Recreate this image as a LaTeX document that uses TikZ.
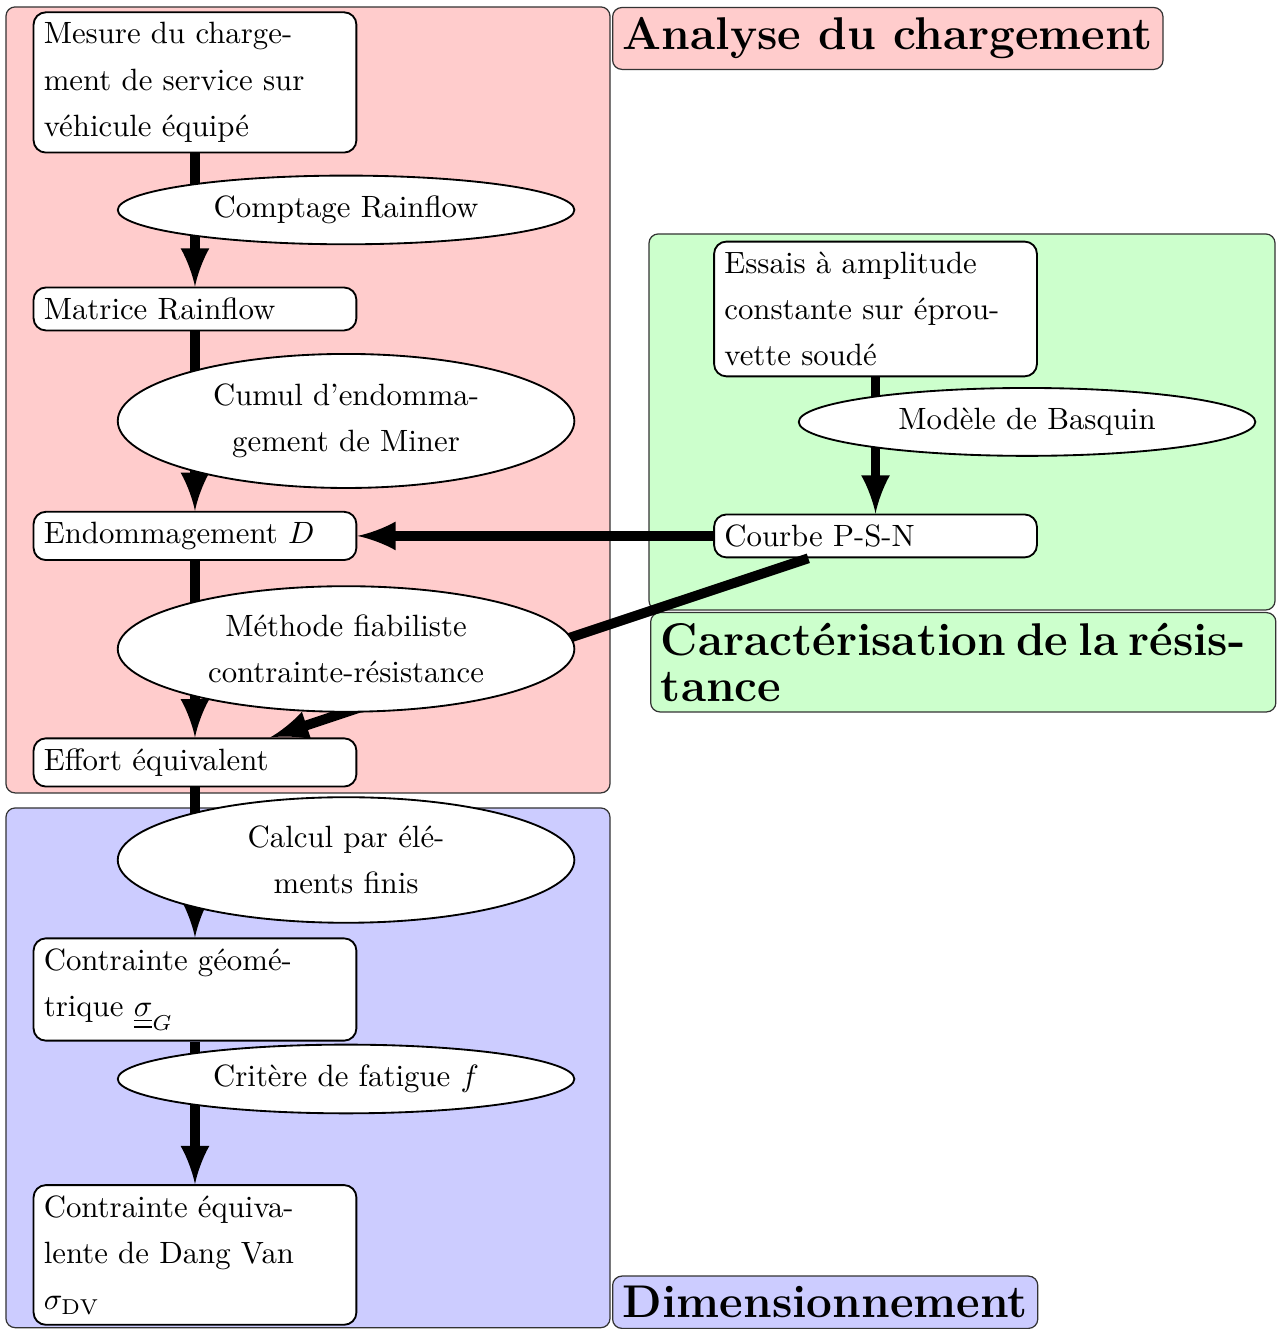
\documentclass[tikz,border=0pt]{standalone}
\usepackage{fontspec}
\usepackage{amsmath}
\usepackage{amssymb}
\usepackage{tikz}
\usetikzlibrary{shapes.geometric}
\linespread{1.25}

\definecolor{rouge}{rgb}{1,0.8,0.8}
\definecolor{vert}{rgb}{0.8,1,0.8}
\definecolor{bleu}{rgb}{0.8,0.8,1}
\newcommand{\grandtitre}{\fontsize{14.9}{18}\selectfont\bfseries}

\tikzset{
  etape/.style={draw,semithick,fill=white,rounded corners,text width=3.45cm,align=left},
  traitement/.style={ellipse,draw,semithick,fill=white,text width=3.45cm,align=center},
  zone/.style={draw=black!80,rounded corners=3pt},
  titre/.style={draw=black!80,rounded corners=3pt},
  fleche/.style={line width=3.2pt,-latex}
}

\begin{document}
\begin{tikzpicture}
\useasboundingbox (0,0) rectangle (14.562,15.166);
% zones de fond
\draw[zone,fill=rouge] (0.068,6.117) rectangle (6.961,15.087);
\draw[zone,fill=vert] (7.406,8.205) rectangle (14.55,12.496);
\draw[zone,fill=bleu] (0.068,0.015) rectangle (6.961,5.946);
\node[titre,fill=rouge,anchor=north west] (Tcharge) at (6.984,15.087) {{\grandtitre Analyse du chargement}};
\node[titre,fill=vert,anchor=north west,text width=6.9cm,align=left] (Tresist) at (7.418,8.182) {{\grandtitre Caractérisation de la résis-\\tance}};
\node[titre,fill=bleu,anchor=south west] (Tdim) at (6.984,0) {{\grandtitre Dimensionnement}};
% etapes
\node[etape] (mesure) at (2.225,14.225) {Mesure du charge-\\ment de service sur\\véhicule équipé};
\node[etape] (matrice) at (2.225,11.640) {Matrice Rainflow};
\node[etape] (endo) at (2.225,9.050) {Endommagement $D$};
\node[etape] (effort) at (2.225,6.465) {Effort équivalent};
\node[etape] (contG) at (2.225,3.874) {Contrainte géomé-\\trique $\underline{\underline{\sigma}}_G$};
\node[etape] (contDV) at (2.225,0.845) {Contrainte équiva-\\lente de Dang Van\\$\sigma_{\mathrm{DV}}$};
\node[etape] (essais) at (9.991,11.640) {Essais à amplitude\\constante sur éprou-\\vette soudé};
\node[etape] (courbe) at (9.991,9.050) {Courbe P-S-N};
% fleches
\draw[fleche] (mesure) -- (matrice);
\draw[fleche] (matrice) -- (endo);
\draw[fleche] (endo) -- (effort);
\draw[fleche] (effort) -- (contG);
\draw[fleche] (contG) -- (contDV);
\draw[fleche] (essais) -- (courbe);
\draw[fleche] (courbe) -- (endo);
\draw[fleche] (courbe) -- (effort);
% traitements
\node[traitement] (comptage) at (3.949,12.770) {Comptage Rainflow};
\node[traitement] (cumul) at (3.949,10.362) {Cumul d'endomma-\\gement de Miner};
\node[traitement] (fiab) at (3.949,7.760) {Méthode fiabiliste\\contrainte-résistance};
\node[traitement] (ef) at (3.949,5.352) {Calcul par élé-\\ments finis};
\node[traitement] (critere) at (3.949,2.853) {Critère de fatigue $f$};
\node[traitement] (basquin) at (11.720,10.351) {Modèle de Basquin};
\end{tikzpicture}
\end{document}
